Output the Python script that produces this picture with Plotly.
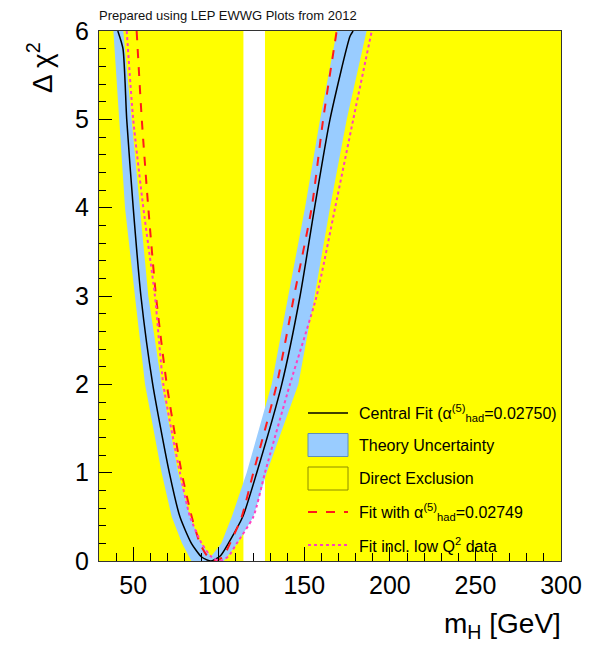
import plotly.graph_objects as go

# ---------------- data ----------------
x_range = [30, 300]
y_range = [0, 6]
x_ticks = [50, 100, 150, 200, 250, 300]
y_ticks = [0, 1, 2, 3, 4, 5, 6]

# direct exclusion regions (GeV)
excl_low = [30, 114.4]
excl_high = [127, 300]

# central fit
central_x = [41, 44, 46.2, 50, 54.5, 61.4, 71.1, 77.3, 84, 90, 95.5, 101, 105.6, 114, 122.2, 136.8, 147.5, 156, 165, 176.7, 178.5]
central_y = [6, 5.8, 5, 4, 3, 2, 1, 0.5, 0.2, 0.045, 0, 0.06, 0.2, 0.5, 1, 2, 3, 4, 5, 5.94, 6]

# fit with alpha_had = 0.02749 (red dashed)
red_x = [52, 55, 58.8, 63.3, 69.6, 78.3, 84.2, 89, 93.5, 98, 102.5, 106.6, 113.4, 120.2, 133.9, 144, 154.3, 161, 168.9]
red_y = [6, 5, 4, 3, 2, 1, 0.5, 0.2, 0.05, 0, 0.05, 0.2, 0.5, 1, 2, 3, 4, 5, 6]

# fit including low Q^2 data (pink dotted)
mag_x = [46.2, 50, 55.9, 62.7, 67.6, 77.3, 83.2, 90, 95.5, 100.5, 105.5, 110.5, 120.2, 127, 141.6, 157.2, 168, 178.6, 189.4]
mag_y = [6, 5, 4, 3, 2, 1, 0.5, 0.2, 0.05, 0, 0.05, 0.2, 0.5, 1, 2, 3, 4, 5, 6]

# theory-uncertainty band: boundaries (x) at given delta-chi2 levels
band_outer_y = [6, 5, 4, 3, 2, 1, 0.5, 0.2, 0]
band_left_outer = [38.4, 41.9, 45.2, 51, 56.9, 66.6, 72.5, 78.5, 84]
band_right_outer = [186.4, 174.8, 165, 156, 146.5, 128, 120.2, 111, 103]
band_inner_y = [6, 5, 4, 3, 2, 1, 0.5, 0.2, 0.05]
band_left_inner = [44.2, 49.1, 54, 58.8, 66.6, 76.3, 83.2, 89.5, 95.5]
band_right_inner = [169, 159.2, 150.4, 140.6, 130.9, 116.3, 107.6, 101.5, 96]

legend_labels = [
    "Central Fit (α<sup>(5)</sup><sub>had</sub>=0.02750)",
    "Theory Uncertainty",
    "Direct Exclusion",
    "Fit with α<sup>(5)</sup><sub>had</sub>=0.02749",
    "Fit incl. low Q<sup>2</sup> data",
]

# ---------------- styles ----------------
YELLOW = "#ffff00"
BLUE = "#99ccff"
RED = "#ff1a1a"
PINK = "#ff40c0"
FONT = "Liberation Sans, Arial, sans-serif"

W, H = 611, 645
ML, MR, MT, MB = 99, 50, 31, 84
PW, PH = W - ML - MR, H - MT - MB


def px(xp):
    return (xp - ML) / PW


def py(yp):
    return (H - MB - yp) / PH


fig = go.Figure()

# band polygon: outer left (top->bottom), outer right (bottom->top), inner right (top->bottom), inner left (bottom->top)
bx = band_left_outer + band_right_outer[::-1] + band_right_inner + band_left_inner[::-1]
by = band_outer_y + band_outer_y[::-1] + band_inner_y + band_inner_y[::-1]
fig.add_trace(go.Scatter(x=bx, y=by, fill="toself", fillcolor=BLUE, mode="lines",
                         line=dict(width=0, color=BLUE), showlegend=False, hoverinfo="skip"))

fig.add_trace(go.Scatter(x=central_x, y=central_y, mode="lines",
                         line=dict(color="black", width=1.5, shape="spline", smoothing=0.6),
                         showlegend=False))
fig.add_trace(go.Scatter(x=red_x, y=red_y, mode="lines",
                         line=dict(color=RED, width=2, dash="dash", shape="spline", smoothing=0.6),
                         showlegend=False))
fig.add_trace(go.Scatter(x=mag_x, y=mag_y, mode="lines",
                         line=dict(color=PINK, width=2, dash="dot", shape="spline", smoothing=0.6),
                         showlegend=False))

shapes = []
for lo, hi in (excl_low, excl_high):
    shapes.append(dict(type="rect", xref="x", yref="paper", x0=lo, x1=hi, y0=0, y1=1,
                       fillcolor=YELLOW, line=dict(width=0), layer="below"))

# manual legend
sx0, sx1 = 308, 348
tx = 357
rows = [413, 445, 478.5, 512, 545]
shapes.append(dict(type="line", xref="paper", yref="paper", x0=px(sx0), x1=px(sx1),
                   y0=py(rows[0]), y1=py(rows[0]), line=dict(color="black", width=1.5)))
shapes.append(dict(type="rect", xref="paper", yref="paper", x0=px(sx0), x1=px(sx1),
                   y0=py(rows[1] - 11.5), y1=py(rows[1] + 11.5), fillcolor=BLUE,
                   line=dict(color="#5f8fb8", width=1)))
shapes.append(dict(type="rect", xref="paper", yref="paper", x0=px(sx0), x1=px(sx1),
                   y0=py(rows[2] - 11.5), y1=py(rows[2] + 11.5), fillcolor=YELLOW,
                   line=dict(color="#8c8c00", width=1)))
shapes.append(dict(type="line", xref="paper", yref="paper", x0=px(sx0), x1=px(sx1),
                   y0=py(rows[3]), y1=py(rows[3]), line=dict(color=RED, width=2, dash="dash")))
shapes.append(dict(type="line", xref="paper", yref="paper", x0=px(sx0), x1=px(sx1),
                   y0=py(rows[4]), y1=py(rows[4]), line=dict(color=PINK, width=2, dash="dot")))

annotations = []
for lab, r in zip(legend_labels, rows):
    annotations.append(dict(text=lab, xref="paper", yref="paper", x=px(tx), y=py(r),
                            xanchor="left", yanchor="middle", showarrow=False,
                            font=dict(family=FONT, size=16, color="black")))

annotations.append(dict(text="Prepared using LEP EWWG Plots from 2012", xref="paper", yref="paper",
                        x=px(97), y=py(15), xanchor="left", yanchor="middle", showarrow=False,
                        font=dict(family=FONT, size=13, color="#111")))
annotations.append(dict(text="Δ χ<sup>2</sup>", xref="paper", yref="paper", x=px(40), y=py(68),
                        xanchor="center", yanchor="middle", textangle=-90, showarrow=False,
                        font=dict(family=FONT, size=28, color="black")))
annotations.append(dict(text="m<sub>H</sub> [GeV]", xref="paper", yref="paper", x=px(563), y=py(625),
                        xanchor="right", yanchor="middle", showarrow=False,
                        font=dict(family=FONT, size=28, color="black")))

fig.update_layout(
    width=W, height=H,
    margin=dict(l=ML, r=MR, t=MT, b=MB),
    paper_bgcolor="white", plot_bgcolor="white",
    shapes=shapes, annotations=annotations,
    showlegend=False,
    font=dict(family=FONT, color="black"),
)
fig.update_xaxes(range=x_range, tickvals=x_ticks, ticks="inside", ticklen=14, tickwidth=1,
                 tickcolor="black", showgrid=False, zeroline=False, showline=True,
                 linecolor="#333", linewidth=1, mirror=True,
                 tickfont=dict(family=FONT, size=25), ticklabelstandoff=2,
                 minor=dict(dtick=10, ticks="inside", ticklen=8, tickcolor="black", showgrid=False))
fig.update_yaxes(range=y_range, tickvals=y_ticks, ticks="inside", ticklen=13, tickwidth=1,
                 tickcolor="black", showgrid=False, zeroline=False, showline=True,
                 linecolor="#333", linewidth=1, mirror=True,
                 tickfont=dict(family=FONT, size=25), ticklabelstandoff=4,
                 minor=dict(dtick=0.2, ticks="inside", ticklen=7, tickcolor="black", showgrid=False))

fig.write_html("out.html")
